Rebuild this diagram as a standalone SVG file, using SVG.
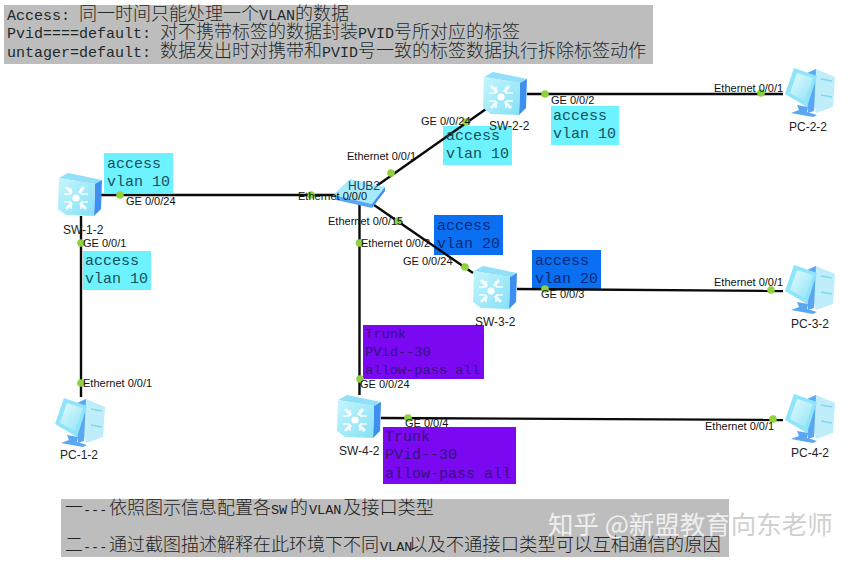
<svg xmlns="http://www.w3.org/2000/svg" width="855" height="562" viewBox="0 0 855 562">
<style>
.bg{fill:#bdbdbd}
.m{font-family:"Liberation Mono","DejaVu Sans Mono","Noto Sans CJK SC",monospace;font-size:15px;fill:#1d2a2a}
.c{font-family:"Noto Sans CJK SC",sans-serif;font-size:18px;font-weight:300}
.bm{font-family:"Liberation Mono","Noto Sans CJK SC",monospace;font-size:13.500px;fill:#222}
.l{font-family:"Liberation Sans",Arial,sans-serif;font-size:11px;fill:#111}
.n{font-family:"Liberation Sans",Arial,sans-serif;font-size:12px;fill:#222}
.teal{fill:#6cf3ff}.teal-t{fill:#17505c}
.blue{fill:#0a6ff0}.blue-t{fill:#08297a}
.purple{fill:#7a08f0}.purple-t{fill:#33157f}
.link{stroke:#0a0a0a;stroke-width:2.4;fill:none}
.dot{fill:#8fd13f}
</style>
<defs>
<linearGradient id="face" x1="0" y1="0" x2="1" y2="1"><stop offset="0" stop-color="#c4f5fd"/><stop offset="1" stop-color="#86e0f6"/></linearGradient>
<linearGradient id="scr" x1="0" y1="0" x2="1" y2="1"><stop offset="0" stop-color="#e4fbff"/><stop offset="1" stop-color="#8fe3f6"/></linearGradient>
<linearGradient id="wm" gradientUnits="userSpaceOnUse" x1="548" y1="0" x2="834" y2="0"><stop offset="0.63" stop-color="#efefef"/><stop offset="0.63" stop-color="#cfcfcf"/></linearGradient>
<symbol id="sw" viewBox="0 0 44 43" width="44" height="43" overflow="visible">
<path d="M1 5L10 0L44 7L37 11Z" fill="#8fe0f8"/>
<path d="M37 11L44 7L43 36L36 43Z" fill="#3f8ff0"/>
<path d="M1 5L37 11L36 43L8 42L0 36Z" fill="url(#face)"/>
<circle cx="18" cy="25" r="3.600" fill="#fff"/>
<g stroke="#fff" stroke-width="3" fill="none" opacity=".92">
<path d="M8 14L14 20M26 14L21 20M8 36L14 30M28 36L22 30"/>
<path d="M6 21L13 21M13 15L13 21M30 21L23 21M23 15L23 21M6 29L13 29M13 36L13 29M30 29L23 29M23 36L23 29" stroke-width="1.600"/>
</g>
</symbol>
<symbol id="pc" viewBox="0 0 52 50" width="52" height="50" overflow="visible">
<path d="M22 7L33 2L52 10L50 40L33 46Z" fill="#bfeefa"/>
<path d="M22 7L33 2L31 44L25 46Z" fill="#5aa6f2"/>
<path d="M38 12L49 14M38 28L49 30" stroke="#7fd8ee" stroke-width="1.500"/>
<path d="M2 27L11 1L34 9L24 40Z" fill="#8ee4f8"/>
<path d="M7 26L14 6L30 11L22 34Z" fill="url(#scr)"/>
<path d="M14 38L25 40L24 45L34 48L30 50L8 46L16 43Z" fill="#5aa6f2"/>
</symbol>
</defs>

<g id="top-note">
<rect class="bg" x="4" y="5" width="649" height="59"/>
<text class="m" x="7" y="20">Access: <tspan class="c">同一时间只能处理一个</tspan>VLAN<tspan class="c">的数据</tspan></text>
<text class="m" x="7" y="38">Pvid====default: <tspan class="c">对不携带标签的数据封装</tspan>PVID<tspan class="c">号所对应的标签</tspan></text>
<text class="m" x="7" y="57">untager=default: <tspan class="c">数据发出时对携带和</tspan>PVID<tspan class="c">号一致的标签数据执行拆除标签动作</tspan></text>
</g>

<g id="boxes">
<rect class="teal" x="104" y="153" width="69" height="40"/>
<rect class="teal" x="83" y="251" width="68" height="39"/>
<rect class="teal" x="443" y="126" width="69" height="39"/>
<rect class="teal" x="551" y="106" width="68" height="39"/>
<rect class="blue" x="434" y="215" width="69" height="40"/>
<rect class="blue" x="532" y="250" width="69" height="40"/>
<rect class="purple" x="363" y="325" width="121" height="54"/>
<rect class="purple" x="383" y="427" width="133" height="57"/>
</g>

<g id="connectors">
<path class="link" d="M101 195H340"/>
<path class="link" d="M81 216V397"/>
<path class="link" d="M375 187L486 109"/>
<path class="link" d="M374 205L473 273"/>
<path class="link" d="M359.500 205V395"/>
<path class="link" d="M527 94H783"/>
<path class="link" d="M517 289L783 291"/>
<path class="link" d="M381 418L783 420"/>
<g class="dot">
<circle cx="120" cy="195" r="3.800"/><circle cx="311" cy="195" r="3.800"/>
<circle cx="81" cy="243" r="3.800"/><circle cx="81" cy="383" r="3.800"/>
<circle cx="391" cy="173" r="3.800"/><circle cx="466" cy="122" r="3.800"/>
<circle cx="398" cy="221" r="3.800"/><circle cx="465" cy="267" r="3.800"/>
<circle cx="359.500" cy="243" r="3.800"/><circle cx="360" cy="379" r="3.800"/>
<circle cx="545" cy="94" r="3.800"/><circle cx="761" cy="93" r="3.800"/>
<circle cx="545" cy="289" r="3.800"/><circle cx="771" cy="290" r="3.800"/>
<circle cx="408" cy="418" r="3.800"/><circle cx="773" cy="419" r="3.800"/>
</g>
</g>

<g id="box-text">
<text class="m teal-t" x="107" y="168">access</text><text class="m teal-t" x="107" y="186">vlan 10</text>
<text class="m teal-t" x="85" y="265">access</text><text class="m teal-t" x="85" y="283">vlan 10</text>
<text class="m teal-t" x="446" y="140">access</text><text class="m teal-t" x="446" y="158">vlan 10</text>
<text class="m teal-t" x="553" y="120">access</text><text class="m teal-t" x="553" y="138">vlan 10</text>
<text class="m blue-t" x="437" y="230">access</text><text class="m blue-t" x="437" y="248">vlan 20</text>
<text class="m blue-t" x="535" y="265">access</text><text class="m blue-t" x="535" y="283">vlan 20</text>
<text class="m purple-t" style="font-size:13.700px" x="365" y="338">Trunk</text><text class="m purple-t" style="font-size:13.700px" x="365" y="356">PVid--30</text><text class="m purple-t" style="font-size:13.700px" x="365" y="374">allow-pass all</text>
<text class="m purple-t" x="385" y="441">Trunk</text><text class="m purple-t" x="385" y="459">PVid--30</text><text class="m purple-t" x="385" y="478">allow-pass all</text>
</g>

<g id="SW-1-2"><use href="#sw" x="58" y="173"/><text class="n" x="63" y="234">SW-1-2</text></g>
<g id="SW-2-2"><use href="#sw" x="483" y="72"/><text class="n" x="489" y="130">SW-2-2</text></g>
<g id="SW-3-2"><use href="#sw" x="473" y="266"/><text class="n" x="475" y="326">SW-3-2</text></g>
<g id="SW-4-2"><use href="#sw" x="337" y="395"/><text class="n" x="339" y="455">SW-4-2</text></g>
<g id="HUB2">
<path d="M333 195L350 179L385 187L372 204Z" fill="#a5ecfb"/>
<path d="M333 195L372 204L372 208L336 200Z" fill="#5aa6f2"/>
<path d="M372 204L385 187L385 191L372 208Z" fill="#3f8ff0"/>
<text class="n" x="348" y="190" style="fill:#1f3f5f">HUB2</text>
</g>
<g id="PC-1-2"><use href="#pc" x="53" y="397"/><text class="n" x="60" y="459">PC-1-2</text></g>
<g id="PC-2-2"><use href="#pc" x="783" y="67"/><text class="n" x="789" y="131">PC-2-2</text></g>
<g id="PC-3-2"><use href="#pc" x="783" y="264"/><text class="n" x="791" y="328">PC-3-2</text></g>
<g id="PC-4-2"><use href="#pc" x="783" y="393"/><text class="n" x="791" y="457">PC-4-2</text></g>

<g id="port-labels">
<text class="l" x="126" y="205">GE 0/0/24</text>
<text class="l" x="298" y="200">Ethernet 0/0/0</text>
<text class="l" x="83" y="247">GE 0/0/1</text>
<text class="l" x="83" y="387">Ethernet 0/0/1</text>
<text class="l" x="347" y="160">Ethernet 0/0/1</text>
<text class="l" x="421" y="125">GE 0/0/24</text>
<text class="l" x="551" y="104">GE 0/0/2</text>
<text class="l" x="714" y="92">Ethernet 0/0/1</text>
<text class="l" x="328" y="225">Ethernet 0/0/15</text>
<text class="l" x="361" y="247">Ethernet 0/0/2</text>
<text class="l" x="403" y="265">GE 0/0/24</text>
<text class="l" x="541" y="298">GE 0/0/3</text>
<text class="l" x="714" y="286">Ethernet 0/0/1</text>
<text class="l" x="360" y="388">GE 0/0/24</text>
<text class="l" x="405" y="427">GE 0/0/4</text>
<text class="l" x="705" y="430">Ethernet 0/0/1</text>
</g>

<g id="bottom-note">
<rect class="bg" x="61" y="499" width="668" height="58"/>
<text class="bm" x="65" y="514"><tspan class="c">一</tspan>---<tspan class="c" x="109">依照图示信息配置各</tspan><tspan x="271">SW</tspan><tspan class="c" x="290">的</tspan><tspan x="309">VLAN</tspan><tspan class="c" x="343" style="font-size:18.200px">及接口类型</tspan></text>
<text class="bm" x="65" y="551"><tspan class="c">二</tspan>---<tspan class="c" x="109">通过截图描述解释在此环境下不同</tspan><tspan x="380">VLAN</tspan><tspan class="c" x="409" style="font-size:18.350px">以及不通接口类型可以互相通信的原因</tspan></text>
</g>
<text id="watermark" x="548" y="534" font-family="'Noto Sans CJK SC',sans-serif" font-size="25.500" fill="url(#wm)">知乎 @新盟教育向东老师</text>
</svg>
